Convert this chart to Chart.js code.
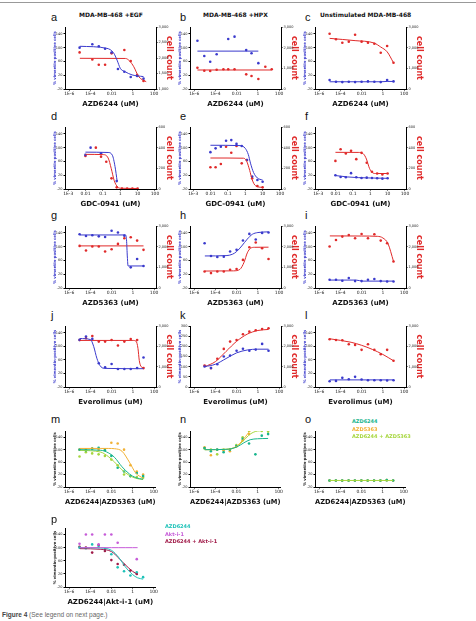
<!DOCTYPE html>
<html>
<head>
<meta charset="utf-8">
<script src="https://cdn.jsdelivr.net/npm/chart.js@4.4.1/dist/chart.umd.min.js"></script>
<style>
body { margin: 0; width: 476px; height: 621px; background: #fff; position: relative; overflow: hidden; font-family: "DejaVu Sans", sans-serif; }
canvas { position: absolute; }
.txt { position: absolute; white-space: nowrap; line-height: 1; }
.letter { font-family: "Liberation Sans", sans-serif; font-size: 11px; color: #111; }
.coltitle { font-weight: bold; font-size: 6px; color: #111; }
.leg { font-weight: bold; font-size: 5px; }
#rule { position: absolute; left: 0; top: 2px; width: 476px; height: 1px; background: #999; }
#caption { position: absolute; left: 2px; top: 611px; font-family: "Liberation Sans", sans-serif; font-size: 6.5px; color: #666; }
</style>
</head>
<body>
<div id="rule"></div>
<div id="caption"><b style="color:#444">Figure 4</b> (See legend on next page.)</div>
<script>
// x axes
var azdTicks = [1e-6, 1e-4, 0.01, 1, 100];
var azdTickLabels = ['1E-6', '1E-4', '0.01', '1', '100'];
var gdcTicks = [0.001, 0.01, 0.1, 1, 10, 100];
var gdcTickLabels = ['1E-3', '0.01', '0.1', '1', '10', '100'];

// doses (uM)
var azdDoses = [9.5e-6, 3.8e-5, 1.5e-4, 6.1e-4, 2.4e-3, 9.8e-3, 0.039, 0.156, 0.625, 2.5, 10];
var gdcDoses = [0.0098, 0.0195, 0.039, 0.078, 0.156, 0.3125, 0.625, 1.25, 2.5, 5, 10];

// a  MDA-MB-468 +EGF, AZD6244
var aVim = [100, null, 110, 104, 97, 86, 38, 30, 15, 18, 10];
var aVimFitX = [1e-5, 3.6e-3, 0.015, 0.032, 0.065, 0.19, 0.83, 10];
var aVimFit = [104, 98, 85, 64, 40, 30, 21, 16];
var aCount = [2180, null, 1950, 1780, 1780, 2150, null, 2260, 1900, 1450, 1260];
var aCountFitX = [1e-5, 0.2, 0.5, 1.2, 3.5, 18];
var aCountFit = [1990, 1985, 1900, 1720, 1400, 1235];

// b  MDA-MB-468 +HPX, AZD6244
var bVimX = [2e-6, 8.9e-6, 3.2e-5, 1.3e-4, 1.6e-3, 6.3e-3, 0.079, 0.25, 1.1];
var bVim = [120, 76, 59, 81, 125, 132, 93, 84, 55];
var bVimFitX = [2e-6, 1.1];
var bVimFit = [90, 90];
var bCountX = [2e-6, 8.9e-6, 3.2e-5, 1.3e-4, 5.6e-4, 1.6e-3, 6.3e-3, 0.079, 0.25, 1.1, 5, 20];
var bCount = [1030, 885, 870, 933, 953, 953, 953, 710, 628, 483, 1080, 953];
var bCountFitX = [2e-6, 20];
var bCountFit = [920, 920];

// c  unstimulated, AZD6244
var cVim = [6, 1, 0, 1, 0, 1, 2, 1, 0, 6, 2];
var cVimFitX = [9.5e-6, 0.625, 2.5, 10];
var cVimFit = [1, 1, 2, 2];
var cCount = [2676, 2405, 2240, 2290, 2627, 2290, 2240, 2192, 1756, 2081, 1273];
var cCountFitX = [9.5e-6, 2.4e-3, 0.156, 0.625, 2.5, 10];
var cCountFit = [2450, 2340, 2220, 2030, 1800, 1270];

// d  +EGF, GDC-0941
var dVimX = [0.0098, 0.0195, 0.078, 0.625];
var dVim = [79, 100, 84, 3];
var dVimFitX = [0.0098, 0.2, 0.35, 0.5, 0.66];
var dVimFit = [87, 86, 78, 45, 3];
var dCountX = [0.0098, 0.039, 0.078, 0.156, 0.3125, 0.625, 1.25, 2.5, 5, 10];
var dCount = [319, 400, 313, 264, 103, 16, 5, 5, 5, 5];
var dCountFitX = [0.0098, 0.1, 0.2, 0.3, 0.45, 0.7, 1, 10];
var dCountFit = [335, 333, 300, 200, 80, 20, 8, 5];

// e  +HPX, GDC-0941
var eVim = [87, 98, 103, 120, 122, 111, 105, 64, 16, 6, 1];
var eVimFitX = [0.0098, 0.5, 1, 1.5, 2, 3, 5, 10];
var eVimFit = [107, 106, 98, 80, 55, 28, 12, 6];
var eCount = [210, 210, 242, 409, 351, 416, 248, 281, 103, 29, 16];
var eCountFitX = [0.0098, 0.8, 1.2, 1.8, 2.5, 4, 10];
var eCountFit = [300, 298, 270, 180, 90, 30, 15];

// f  unstimulated, GDC-0941
var fVim = [20, 15, 14, 26, 14, 12, 13, 12, 11, 10, 11];
var fVimFitX = [0.0098, 0.05, 0.2, 1, 10];
var fVimFit = [19, 15, 13, 12, 11];
var fCount = [272, 385, 343, 369, 289, 350, 254, 167, 150, 140, 150];
var fCountFitX = [0.0098, 0.2, 0.4, 0.6, 0.9, 1.3, 2, 10];
var fCountFit = [355, 354, 340, 290, 200, 160, 150, 150];

// g  +EGF, AZD5363
var gVim = [136, 131, 133, 130, 128, 146, 141, 132, 40, 64, 44];
var gVimFitX = [1e-5, 0.2, 0.25, 0.3, 0.35, 10];
var gVimFit = [134, 134, 120, 70, 44, 44];
var gCount = [2037, 1813, 2005, 2005, 1765, 1877, 2134, 2406, 2455, 2294, 1845];
var gCountFitX = [1e-5, 10];
var gCountFit = [2037, 2037];

// h  +HPX, AZD5363
var hVim = [110, 73, 70, 71, 86, 91, 118, 137, 121, 140, 141];
var hVimFitX = [1e-5, 1e-3, 4e-3, 0.01, 0.03, 0.1, 0.3, 1, 10];
var hVimFit = [73, 74, 78, 86, 102, 122, 136, 141, 143];
var hCount = [800, 720, 800, 800, 880, 915, 1360, 1970, 2200, 1925, 1400];
var hCountFitX = [1e-5, 0.005, 0.02, 0.05, 0.1, 0.2, 0.5, 10];
var hCountFit = [820, 830, 900, 1250, 1700, 1920, 1970, 1975];

// i  unstimulated, AZD5363
var iVim = [4, 4, 1, 9, 0, 0, 4, 6, 0, -1, -1];
var iVimFitX = [1e-5, 0.003, 0.012, 10];
var iVimFit = [3, 3, 0, 0];
var iCount = [2005, 2326, 2487, 2567, 2406, 2615, 2406, 2600, 2294, 2166, 1283];
var iCountFitX = [1e-5, 0.01, 0.3, 1, 3, 10];
var iCountFit = [2520, 2515, 2500, 2420, 2150, 1290];

// j  +EGF, Everolimus
var jVim = [119, 129, 122, 50, 38, 48, 33, 33, 33, 36, 67];
var jVimFitX = [1e-5, 1e-4, 2e-4, 4e-4, 8e-4, 2e-3, 10];
var jVimFit = [123, 120, 100, 65, 43, 35, 34];
var jCount = [2315, 2397, 2510, 2234, 2234, 2315, 2038, 2234, 2364, 2315, 930];
var jCountFitX = [1e-5, 1, 2, 3, 4, 6, 10];
var jCountFit = [2290, 2290, 2250, 1900, 1300, 1000, 950];

// k  +HPX, Everolimus
var kVim = [101, 93, 112, 150, 155, 178, 188, 178, 184, 212, 178];
var kVimFitX = [1e-5, 1e-4, 1e-3, 0.01, 0.1, 1, 10];
var kVimFit = [100, 112, 140, 168, 182, 186, 186];
var kCount = [1060, 930, 1386, 1875, 2234, 2315, 2592, 2723, 2788, 2853, 2886];
var kCountFitX = [1e-5, 1e-4, 1e-3, 0.01, 0.1, 1, 10];
var kCountFit = [1000, 1250, 1750, 2250, 2600, 2780, 2830];

// l  unstimulated, Everolimus
var lVim = [-3, -2, 7, 3, 10, 2, 0, 0, 0, -1, 0];
var lVimFitX = [1e-5, 10];
var lVimFit = [1, 1];
var lCount = [2348, 2315, 2299, 2103, 2071, 1826, 2103, 1826, 1614, 1826, 1288];
var lCountFitX = [1e-5, 1e-3, 0.01, 0.1, 1, 10];
var lCountFit = [2370, 2200, 2050, 1850, 1600, 1290];

// m-o  AZD6244 | AZD5363 combinations
var comboNames = ['AZD6244', 'AZD5363', 'AZD6244 + AZD5363'];
var mAzd6244 = [100, 98, 103, 106, 98, 80, 42, 30, 15, 25, 15];
var mAzd5363 = [100, 100, 104, 100, 100, 122, 120, 100, 50, 30, 20];
var mCombo = [78, 92, 88, 85, 80, 68, 50, 20, 15, 12, 10];
var mFitX = [1e-5, 1e-3, 5e-3, 0.02, 0.1, 0.5, 2, 10];
var mAzd6244Fit = [100, 98, 90, 75, 45, 22, 10, 5];
var mAzd5363Fit = [104, 104, 104, 103, 95, 60, 25, 8];
var mComboFit = [98, 92, 78, 60, 35, 17, 8, 4];

var nAzd6244 = [105, 95, 100, 92, 100, 112, 135, 120, 85, 145, 150];
var nAzd5363 = [108, 82, 100, 98, 95, 110, 130, 150, 175, 172, 168];
var nCombo = [104, 100, 85, 100, 100, 115, 140, 160, 165, 160, 158];
var nFitX = [1e-5, 1e-3, 0.01, 0.05, 0.2, 1, 10];
var nAzd6244Fit = [100, 101, 108, 122, 132, 135, 136];
var nAzd5363Fit = [100, 101, 110, 135, 160, 172, 175];
var nComboFit = [100, 101, 110, 130, 150, 160, 162];

var oAzd6244 = [1, 1, 1, 1, 1, 1, 1, 1, 1, 2, 1];
var oAzd5363 = [1, 1, 1, 1, 1, 1, 1, 1, 1, 2, 1];
var oCombo = [1, 1, 1, 1, 1, 1, 1, 1, 1, 2, 1];
var oFitX = [9.5e-6, 10];
var oFit = [1, 1];

// p  AZD6244 | Akt-i-1
var pNames = ['AZD6244', 'Akt-i-1', 'AZD6244 + Akt-i-1'];
var pAzd6244 = [100, 98, 110, 102, 96, 80, 40, 28, 15, 25, 10];
var pAkt = [112, 140, 140, 110, 140, 140, 115, 175, null, 65, null];
var pCombo = [103, 100, 85, 108, 90, 62, 50, 48, 30, 20, null];
var pFitX = [1e-5, 1e-3, 0.01, 0.05, 0.2, 1, 3, 10];
var pAzd6244Fit = [100, 99, 92, 70, 42, 18, 8, 4];
var pAktFit = [100, 100, 100, 100, 100, 100, 100, null];
var pComboFit = [97, 95, 88, 68, 48, 28, 18, null];

var BLUE = '#3a3acc', RED = '#e02a2a';
var TEAL = '#17b58d', ORANGE = '#f2b134', LIME = '#a6d63e';
var CYAN = '#1ec2b8', PURPLE = '#c65bd8', CRIMSON = '#a01a48';

function points(xs, ys, color, axis) {
    var data = [];
    for (var i = 0; i < ys.length; i++) {
        if (ys[i] !== null) data.push({ x: xs[i], y: ys[i] });
    }
    return { data: data, yAxisID: axis, showLine: false, pointRadius: 1.3, pointHoverRadius: 0,
        backgroundColor: color, borderColor: color, borderWidth: 0 };
}

function fit(xs, ys, color, axis) {
    var data = [];
    for (var i = 0; i < ys.length; i++) {
        if (ys[i] !== null) data.push({ x: xs[i], y: ys[i] });
    }
    return { data: data, yAxisID: axis, showLine: true, pointRadius: 0, borderWidth: 1,
        borderColor: color, backgroundColor: color, cubicInterpolationMode: 'monotone' };
}

function yAxis(pos, min, max, step, color, title, titleSize, width) {
    return {
        position: pos, min: min, max: max,
        ticks: { stepSize: step, font: { size: 3.5, family: 'DejaVu Sans' }, color: '#222', padding: 1 },
        grid: { drawOnChartArea: false, drawTicks: true, tickLength: 1.5, color: '#000' },
        border: { display: true, color: '#000', width: 1 },
        title: { display: true, text: title, color: color, padding: 0,
            font: { size: titleSize, weight: 'bold', family: 'DejaVu Sans' } },
        afterFit: function (s) { s.width = width; }
    };
}

function panel(p) {
    var leftW = 12, rightW = p.right ? 18 : 3, padTop = 4, bottomH = 19;
    var cv = document.createElement('canvas');
    var w = leftW + (p.R - p.L) + rightW, h = padTop + (p.B - p.T) + bottomH;
    cv.width = w; cv.height = h;
    cv.style.left = (p.L - leftW) + 'px';
    cv.style.top = (p.T - padTop) + 'px';
    cv.style.width = w + 'px'; cv.style.height = h + 'px';
    document.body.appendChild(cv);

    var scales = {
        x: {
            type: 'logarithmic', min: p.xMin, max: p.xMax,
            afterBuildTicks: function (s) { s.ticks = p.ticks.map(function (v) { return { value: v }; }); },
            ticks: { autoSkip: false, maxRotation: 0, padding: 1, color: '#222',
                font: { size: 4.5, family: 'DejaVu Sans' },
                callback: function (v, i) { return p.tickLabels[i]; } },
            grid: { drawOnChartArea: false, drawTicks: true, tickLength: 1.5, color: '#000' },
            border: { display: true, color: '#000', width: 1 },
            title: { display: true, text: p.xTitle, color: '#111', padding: { top: 1, bottom: 0 },
                font: { size: 7, weight: 'bold', family: 'DejaVu Sans' } },
            afterFit: function (s) { s.height = bottomH; }
        },
        yL: yAxis('left', p.left[0], p.left[1], p.left[2], p.leftColor || BLUE,
            '% vimentin-positive cells', 3.8, leftW)
    };
    if (p.right) {
        scales.yR = yAxis('right', p.right[0], p.right[1], p.right[2], RED, 'cell count', 8, rightW);
    }
    new Chart(cv, {
        type: 'scatter',
        data: { datasets: p.datasets },
        options: {
            responsive: false, animation: false, devicePixelRatio: 1,
            layout: { padding: { top: padTop, left: 0, right: 0, bottom: 0 } },
            plugins: { legend: { display: false }, tooltip: { enabled: false } },
            scales: scales
        }
    });
}

function label(text, x, y, cls, color) {
    var d = document.createElement('div');
    d.className = 'txt ' + cls;
    d.textContent = text;
    d.style.left = x + 'px';
    d.style.top = y + 'px';
    if (color) d.style.color = color;
    document.body.appendChild(d);
}

var cols = [[65, 156], [190, 281], [315, 406]];
var rows = [[27, 89], [127, 189], [226, 288], [326, 387], [431, 487], [528, 587]];
var azdX = { xMin: 4e-7, xMax: 150, ticks: azdTicks, tickLabels: azdTickLabels };
var gdcX = { xMin: 6.5e-4, xMax: 115, ticks: gdcTicks, tickLabels: gdcTickLabels };

function place(c, r, xs, extra) {
    var p = { L: cols[c][0], R: cols[c][1], T: rows[r][0], B: rows[r][1] };
    for (var k in xs) p[k] = xs[k];
    for (var k2 in extra) p[k2] = extra[k2];
    return p;
}

var vimAxis = [-20, 160, 20];

var panels = [
    place(0, 0, azdX, { xTitle: 'AZD6244 (uM)', left: vimAxis, right: [1000, 3000, 500], datasets: [
        fit(aVimFitX, aVimFit, BLUE, 'yL'), fit(aCountFitX, aCountFit, RED, 'yR'),
        points(azdDoses, aVim, BLUE, 'yL'), points(azdDoses, aCount, RED, 'yR')] }),
    place(1, 0, azdX, { xTitle: 'AZD6244 (uM)', left: vimAxis, right: [0, 3000, 1000], datasets: [
        fit(bVimFitX, bVimFit, BLUE, 'yL'), fit(bCountFitX, bCountFit, RED, 'yR'),
        points(bVimX, bVim, BLUE, 'yL'), points(bCountX, bCount, RED, 'yR')] }),
    place(2, 0, azdX, { xTitle: 'AZD6244 (uM)', left: vimAxis, right: [0, 3000, 1000], datasets: [
        fit(cVimFitX, cVimFit, BLUE, 'yL'), fit(cCountFitX, cCountFit, RED, 'yR'),
        points(azdDoses, cVim, BLUE, 'yL'), points(azdDoses, cCount, RED, 'yR')] }),
    place(0, 1, gdcX, { xTitle: 'GDC-0941 (uM)', left: vimAxis, right: [0, 600, 200], datasets: [
        fit(dVimFitX, dVimFit, BLUE, 'yL'), fit(dCountFitX, dCountFit, RED, 'yR'),
        points(dVimX, dVim, BLUE, 'yL'), points(dCountX, dCount, RED, 'yR')] }),
    place(1, 1, gdcX, { xTitle: 'GDC-0941 (uM)', left: vimAxis, right: [0, 600, 200], datasets: [
        fit(eVimFitX, eVimFit, BLUE, 'yL'), fit(eCountFitX, eCountFit, RED, 'yR'),
        points(gdcDoses, eVim, BLUE, 'yL'), points(gdcDoses, eCount, RED, 'yR')] }),
    place(2, 1, gdcX, { xTitle: 'GDC-0941 (uM)', left: vimAxis, right: [0, 600, 200], datasets: [
        fit(fVimFitX, fVimFit, BLUE, 'yL'), fit(fCountFitX, fCountFit, RED, 'yR'),
        points(gdcDoses, fVim, BLUE, 'yL'), points(gdcDoses, fCount, RED, 'yR')] }),
    place(0, 2, azdX, { xTitle: 'AZD5363 (uM)', left: vimAxis, right: [0, 3000, 1000], datasets: [
        fit(gVimFitX, gVimFit, BLUE, 'yL'), fit(gCountFitX, gCountFit, RED, 'yR'),
        points(azdDoses, gVim, BLUE, 'yL'), points(azdDoses, gCount, RED, 'yR')] }),
    place(1, 2, azdX, { xTitle: 'AZD5363 (uM)', left: vimAxis, right: [0, 3000, 1000], datasets: [
        fit(hVimFitX, hVimFit, BLUE, 'yL'), fit(hCountFitX, hCountFit, RED, 'yR'),
        points(azdDoses, hVim, BLUE, 'yL'), points(azdDoses, hCount, RED, 'yR')] }),
    place(2, 2, azdX, { xTitle: 'AZD5363 (uM)', left: vimAxis, right: [0, 3000, 1000], datasets: [
        fit(iVimFitX, iVimFit, BLUE, 'yL'), fit(iCountFitX, iCountFit, RED, 'yR'),
        points(azdDoses, iVim, BLUE, 'yL'), points(azdDoses, iCount, RED, 'yR')] }),
    place(0, 3, azdX, { xTitle: 'Everolimus (uM)', left: vimAxis, right: [0, 3000, 1000], datasets: [
        fit(jVimFitX, jVimFit, BLUE, 'yL'), fit(jCountFitX, jCountFit, RED, 'yR'),
        points(azdDoses, jVim, BLUE, 'yL'), points(azdDoses, jCount, RED, 'yR')] }),
    place(1, 3, azdX, { xTitle: 'Everolimus (uM)', left: [0, 300, 50], right: [0, 3000, 1000], datasets: [
        fit(kVimFitX, kVimFit, BLUE, 'yL'), fit(kCountFitX, kCountFit, RED, 'yR'),
        points(azdDoses, kVim, BLUE, 'yL'), points(azdDoses, kCount, RED, 'yR')] }),
    place(2, 3, azdX, { xTitle: 'Everolimus (uM)', left: vimAxis, right: [0, 3000, 1000], datasets: [
        fit(lVimFitX, lVimFit, BLUE, 'yL'), fit(lCountFitX, lCountFit, RED, 'yR'),
        points(azdDoses, lVim, BLUE, 'yL'), points(azdDoses, lCount, RED, 'yR')] }),
    place(0, 4, azdX, { xTitle: 'AZD6244|AZD5363 (uM)', left: vimAxis, leftColor: '#222', datasets: [
        fit(mFitX, mAzd6244Fit, TEAL, 'yL'), fit(mFitX, mAzd5363Fit, ORANGE, 'yL'), fit(mFitX, mComboFit, LIME, 'yL'),
        points(azdDoses, mAzd6244, TEAL, 'yL'), points(azdDoses, mAzd5363, ORANGE, 'yL'), points(azdDoses, mCombo, LIME, 'yL')] }),
    place(1, 4, azdX, { xTitle: 'AZD6244|AZD5363 (uM)', left: vimAxis, leftColor: '#222', datasets: [
        fit(nFitX, nAzd6244Fit, TEAL, 'yL'), fit(nFitX, nAzd5363Fit, ORANGE, 'yL'), fit(nFitX, nComboFit, LIME, 'yL'),
        points(azdDoses, nAzd6244, TEAL, 'yL'), points(azdDoses, nAzd5363, ORANGE, 'yL'), points(azdDoses, nCombo, LIME, 'yL')] }),
    place(2, 4, azdX, { xTitle: 'AZD6244|AZD5363 (uM)', left: vimAxis, leftColor: '#222', datasets: [
        fit(oFitX, oFit, LIME, 'yL'),
        points(azdDoses, oAzd6244, TEAL, 'yL'), points(azdDoses, oAzd5363, ORANGE, 'yL'), points(azdDoses, oCombo, LIME, 'yL')] }),
    place(0, 5, azdX, { xTitle: 'AZD6244|Akt-i-1 (uM)', left: vimAxis, leftColor: '#222', datasets: [
        fit(pFitX, pAktFit, PURPLE, 'yL'), fit(pFitX, pAzd6244Fit, CYAN, 'yL'), fit(pFitX, pComboFit, CRIMSON, 'yL'),
        points(azdDoses, pAzd6244, CYAN, 'yL'), points(azdDoses, pAkt, PURPLE, 'yL'), points(azdDoses, pCombo, CRIMSON, 'yL')] })
];

panels.forEach(panel);

label('MDA-MB-468 +EGF', 79, 12, 'coltitle');
label('MDA-MB-468 +HPX', 203, 12, 'coltitle');
label('Unstimulated MDA-MB-468', 320, 12, 'coltitle');

var letters = 'abcdefghijklmnop';
var letterX = [51, 180, 305];
var letterY = [12, 111, 210, 310, 414, 514];
for (var n = 0; n < letters.length; n++) {
    label(letters[n], letterX[n % 3], letterY[Math.floor(n / 3)], 'letter');
}

var comboColors = [TEAL, ORANGE, LIME];
comboNames.forEach(function (t, i) { label(t, 352, 419 + i * 7.5, 'leg', comboColors[i]); });
var pColors = [CYAN, PURPLE, CRIMSON];
pNames.forEach(function (t, i) { label(t, 165, 524 + i * 7.5, 'leg', pColors[i]); });
</script>
</body>
</html>
